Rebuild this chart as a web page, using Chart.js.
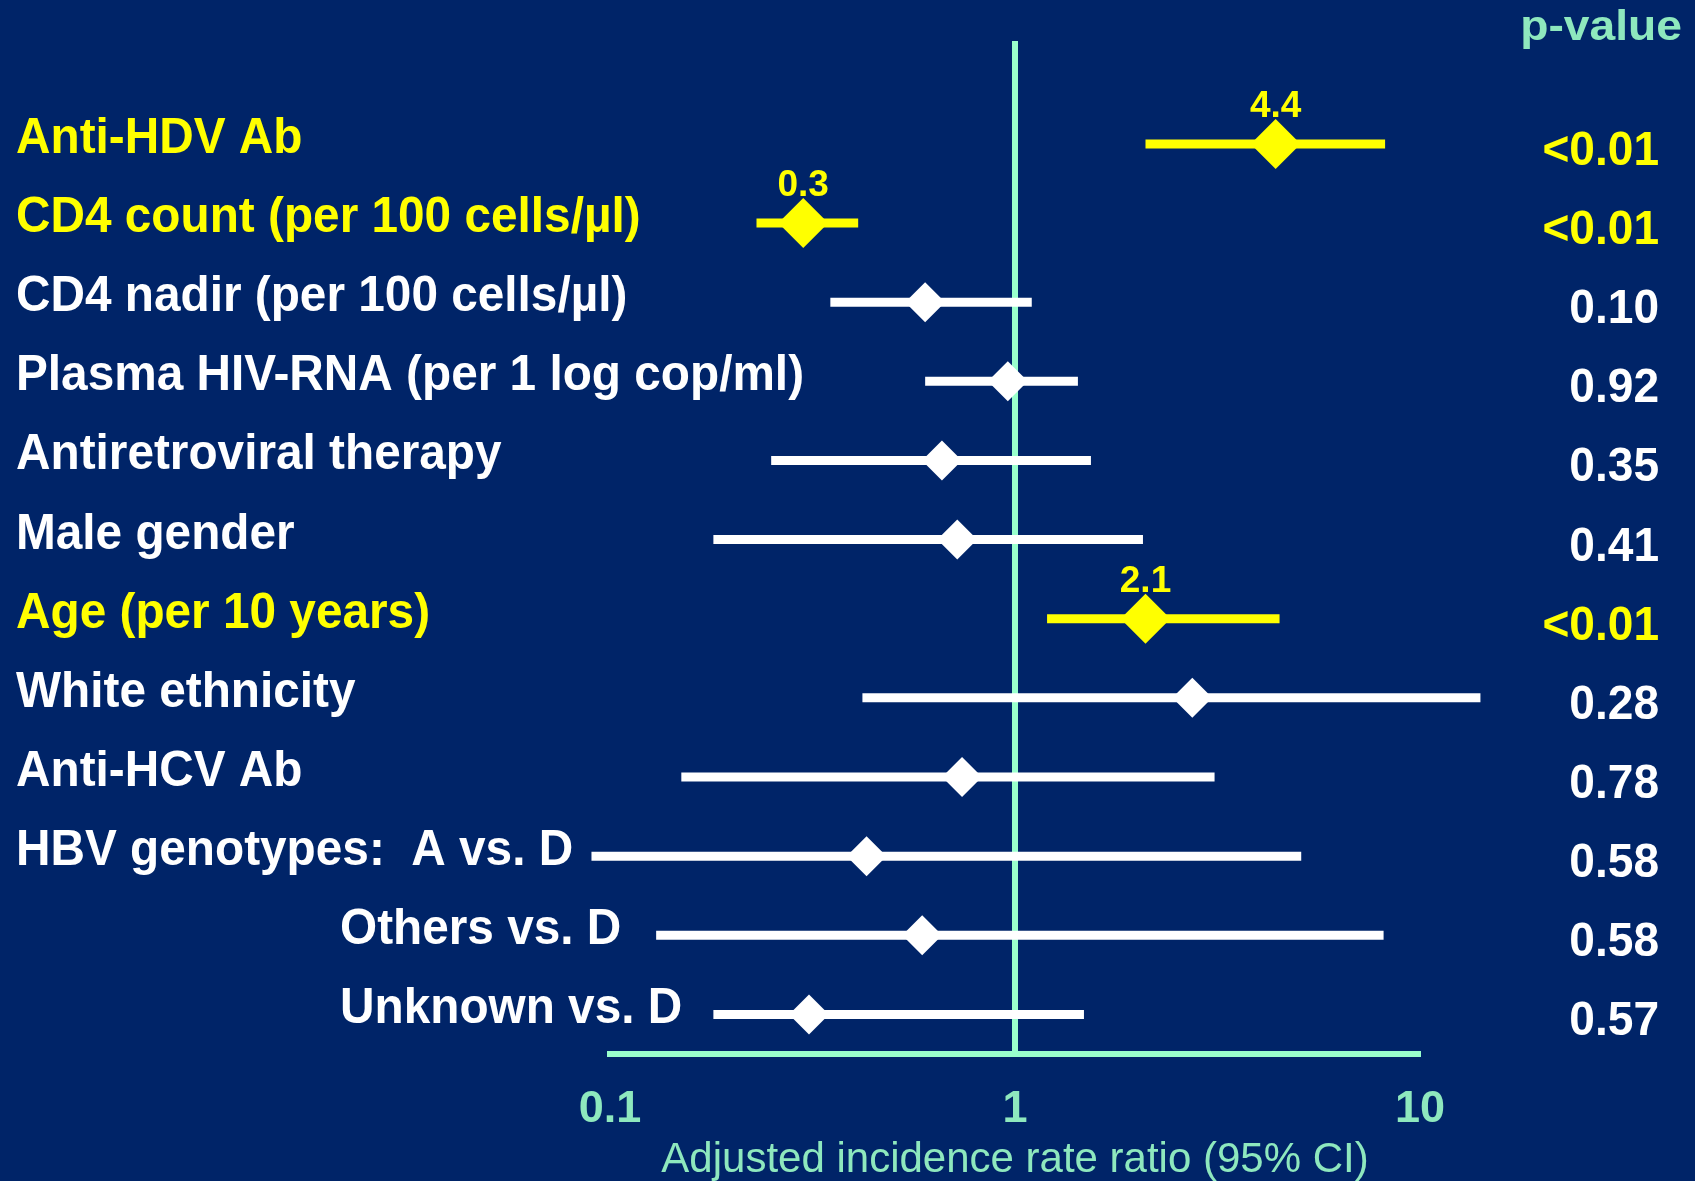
<!DOCTYPE html>
<html>
<head>
<meta charset="utf-8">
<script src="https://cdn.jsdelivr.net/npm/chart.js@4/dist/chart.umd.min.js"></script>
<style>
  html, body { margin: 0; padding: 0; background: #002468; }
  #wrap { width: 1695px; height: 1181px; position: relative; }
</style>
</head>
<body>
<div id="wrap"><canvas id="forest"></canvas></div>
<script>
// Risk factors, top to bottom
const rowLabels = [
  'Anti-HDV Ab',
  'CD4 count (per 100 cells/µl)',
  'CD4 nadir (per 100 cells/µl)',
  'Plasma HIV-RNA (per 1 log cop/ml)',
  'Antiretroviral therapy',
  'Male gender',
  'Age (per 10 years)',
  'White ethnicity',
  'Anti-HCV Ab',
  'HBV genotypes:  A vs. D',
  'Others vs. D',
  'Unknown vs. D'
];
// 1 = sub-comparison listed under the HBV genotype group
const rowLevel = [0, 0, 0, 0, 0, 0, 0, 0, 0, 0, 1, 1];

// Adjusted incidence rate ratios with 95% confidence limits
const irr    = [4.4, 0.3, 0.60, 0.96, 0.66, 0.72, 2.1, 2.74, 0.74, 0.43, 0.59, 0.31];
const ciLow  = [2.1, 0.23, 0.35, 0.60, 0.25, 0.18, 1.2, 0.42, 0.15, 0.09, 0.13, 0.18];
const ciHigh = [8.2, 0.41, 1.10, 1.43, 1.54, 2.07, 4.5, 14.1, 3.11, 5.09, 8.13, 1.48];
const pValues = ['<0.01', '<0.01', '0.10', '0.92', '0.35', '0.41', '<0.01', '0.28', '0.78', '0.58', '0.58', '0.57'];

// Axis ticks
const xTicks = [0.1, 1, 10];
const xTickLabels = ['0.1', '1', '10'];

// Styling
const FONT = '"Liberation Sans", Arial, Helvetica, sans-serif';
const YELLOW = '#FFFF00';
const WHITE = '#FFFFFF';
const MINT = '#99FFCC';
const MINT_TEXT = '#8EE8BE';
const SUB_INDENT = 324;

const isSignificant = i => pValues[i].startsWith('<');
const rowColor = i => (isSignificant(i) ? YELLOW : WHITE);

// Confidence interval whiskers, one segment per row
const whiskerSets = rowLabels.map((label, i) => ({
  label: label + ' CI',
  data: [{ x: ciLow[i], y: i }, { x: ciHigh[i], y: i }],
  showLine: true,
  borderColor: rowColor(i),
  borderWidth: 9,
  borderCapStyle: 'butt',
  pointRadius: 0,
  clip: false,
  order: 1
}));

// Point estimates as diamonds
const estimateSet = {
  label: 'IRR',
  data: rowLabels.map((_, i) => ({ x: irr[i], y: i })),
  pointStyle: 'rectRot',
  pointRadius: rowLabels.map((_, i) => (isSignificant(i) ? 25 : 20)),
  backgroundColor: rowLabels.map((_, i) => rowColor(i)),
  borderWidth: 0,
  clip: false,
  order: 0
};

// Vertical line of no effect at IRR = 1
const nullLine = {
  id: 'nullLine',
  beforeDatasetsDraw(chart) {
    const { ctx, chartArea, scales } = chart;
    const x = scales.x.getPixelForValue(1);
    ctx.save();
    ctx.strokeStyle = MINT;
    ctx.lineWidth = 6;
    ctx.beginPath();
    ctx.moveTo(x, chartArea.top);
    ctx.lineTo(x, chartArea.bottom);
    ctx.stroke();
    ctx.restore();
  }
};

function drawText(ctx, text, x, y, align, font, color, sx) {
  ctx.save();
  ctx.translate(x, y);
  ctx.scale(sx, 1);
  ctx.font = font;
  ctx.fillStyle = color;
  ctx.textAlign = align;
  ctx.textBaseline = 'alphabetic';
  ctx.fillText(text, 0, 0);
  ctx.restore();
}

// Row labels, p-values and value labels on the significant estimates
const forestText = {
  id: 'forestText',
  afterDatasetsDraw(chart) {
    const { ctx, scales } = chart;
    const xs = scales.x, ys = scales.y;
    rowLabels.forEach((label, i) => {
      const yRow = ys.getPixelForValue(i);
      const color = rowColor(i);
      drawText(ctx, label, 16 + rowLevel[i] * SUB_INDENT, yRow + 9,
        'left', 'bold 50px ' + FONT, color, 0.955);
      drawText(ctx, pValues[i], 1659, yRow + 21,
        'right', 'bold 49px ' + FONT, color, 0.94);
      if (isSignificant(i)) {
        drawText(ctx, irr[i].toFixed(1), xs.getPixelForValue(irr[i]), yRow - 27,
          'center', 'bold 37px ' + FONT, YELLOW, 1);
      }
    });
    drawText(ctx, 'p-value', 1682, 40, 'right', 'bold 42px ' + FONT, MINT_TEXT, 1.1);
  }
};

new Chart(document.getElementById('forest'), {
  type: 'scatter',
  data: { datasets: [estimateSet, ...whiskerSets] },
  options: {
    responsive: true,
    maintainAspectRatio: false,
    animation: false,
    events: [],
    layout: { padding: { left: 610, right: 275, top: 41, bottom: 0 } },
    plugins: { legend: { display: false }, tooltip: { enabled: false } },
    scales: {
      x: {
        type: 'logarithmic',
        min: 0.1,
        max: 10,
        position: 'bottom',
        afterBuildTicks: s => { s.ticks = xTicks.map(v => ({ value: v })); },
        afterFit: s => { s.height = 127; },
        grid: { display: false, drawTicks: false },
        border: { display: true, color: MINT, width: 6 },
        ticks: {
          color: MINT_TEXT,
          font: { family: FONT, size: 45, weight: 'bold', lineHeight: 1 },
          padding: 33,
          maxRotation: 0,
          autoSkip: false,
          callback: (v, idx) => xTickLabels[idx]
        },
        title: {
          display: true,
          text: 'Adjusted incidence rate ratio (95% CI)',
          color: MINT_TEXT,
          font: { family: FONT, size: 42, weight: 'normal', lineHeight: 1 },
          padding: { top: 0, bottom: 0 }
        }
      },
      y: { type: 'linear', reverse: true, min: -1.3, max: 11.5, display: false }
    }
  },
  plugins: [nullLine, forestText]
});
</script>
</body>
</html>
